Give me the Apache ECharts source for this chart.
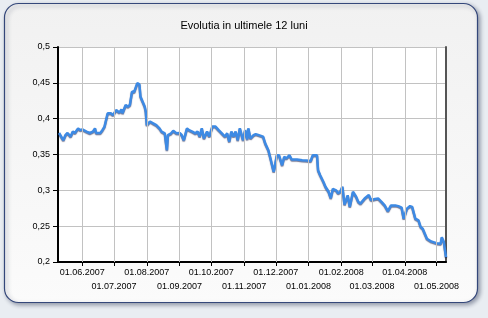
<!DOCTYPE html>
<html><head><meta charset="utf-8">
<script src="https://cdn.jsdelivr.net/npm/echarts@6/dist/echarts.min.js"></script>
<style>html,body{margin:0;padding:0;background:#e9edf2;}#c{width:488px;height:318px;}</style>
</head><body><div id="c"></div>
<script>
const titleText = 'Evolutia in ultimele 12 luni';
const dates = [
'2007-05-10','2007-05-14','2007-05-16','2007-05-18','2007-05-21','2007-05-23','2007-05-25','2007-05-28','2007-05-30',
'2007-06-01','2007-06-05','2007-06-08','2007-06-11','2007-06-13','2007-06-14','2007-06-18','2007-06-20','2007-06-22',
'2007-06-25','2007-06-26','2007-06-28','2007-06-30','2007-07-03','2007-07-06','2007-07-08','2007-07-09','2007-07-12',
'2007-07-14','2007-07-16','2007-07-18','2007-07-20','2007-07-23','2007-07-25','2007-07-26','2007-07-28','2007-07-30',
'2007-07-31','2007-08-01','2007-08-04','2007-08-07','2007-08-10','2007-08-13','2007-08-15','2007-08-18','2007-08-20',
'2007-08-21','2007-08-24','2007-08-26','2007-08-29','2007-09-01','2007-09-03','2007-09-05','2007-09-08','2007-09-10',
'2007-09-13','2007-09-16','2007-09-18','2007-09-20','2007-09-22','2007-09-24','2007-09-27','2007-09-29','2007-10-02',
'2007-10-05','2007-10-08','2007-10-11','2007-10-14','2007-10-16','2007-10-18','2007-10-20','2007-10-22','2007-10-24',
'2007-10-26','2007-10-28','2007-10-31','2007-11-02','2007-11-04','2007-11-05','2007-11-07','2007-11-10','2007-11-12',
'2007-11-15','2007-11-19','2007-11-21','2007-11-24','2007-11-26','2007-11-29','2007-11-30','2007-12-02','2007-12-04',
'2007-12-07','2007-12-09','2007-12-11','2007-12-14','2007-12-16','2007-12-21','2007-12-26','2007-12-30','2008-01-03',
'2008-01-05','2008-01-09','2008-01-10','2008-01-12','2008-01-15','2008-01-17','2008-01-20','2008-01-22','2008-01-24',
'2008-01-27','2008-01-29','2008-01-31','2008-02-02','2008-02-04','2008-02-07','2008-02-09','2008-02-12','2008-02-15',
'2008-02-17','2008-02-19','2008-02-23','2008-02-27','2008-02-29','2008-03-04','2008-03-07','2008-03-10','2008-03-13',
'2008-03-16','2008-03-19','2008-03-23','2008-03-26','2008-03-29','2008-03-31','2008-04-03','2008-04-06','2008-04-08',
'2008-04-11','2008-04-14','2008-04-16','2008-04-18','2008-04-22','2008-04-26','2008-05-01','2008-05-05','2008-05-06',
'2008-05-08','2008-05-10'
];
const values = [
0.380,0.370,0.377,0.380,0.375,0.382,0.380,0.3865,0.384,
0.385,0.382,0.380,0.382,0.3865,0.380,0.380,0.384,0.389,
0.4076,0.405,0.4076,0.405,0.412,0.4085,0.413,0.4076,0.419,
0.4168,0.419,0.4378,0.437,0.4496,0.448,0.431,0.424,0.417,
0.410,0.391,0.396,0.3935,0.391,0.3865,0.382,0.3796,0.356,
0.3772,0.3796,0.383,0.3796,0.380,0.3772,0.370,0.3865,0.384,
0.382,0.3796,0.382,0.375,0.3865,0.3725,0.382,0.375,0.389,
0.389,0.384,0.3796,0.375,0.3796,0.368,0.382,0.375,0.382,
0.370,0.3865,0.370,0.384,0.371,0.3865,0.3725,0.377,0.3785,
0.377,0.375,0.3655,0.356,0.3445,0.326,0.333,0.349,0.349,
0.335,0.3468,0.3445,0.349,0.343,0.343,0.342,0.3415,0.341,
0.349,0.349,0.328,0.321,0.312,0.305,0.298,0.289,0.302,
0.300,0.296,0.298,0.305,0.280,0.293,0.277,0.298,0.291,
0.284,0.2815,0.2885,0.2935,0.2865,0.288,0.2885,0.284,0.279,
0.271,0.279,0.279,0.278,0.276,0.2605,0.2745,0.278,0.277,
0.2605,0.258,0.249,0.2465,0.2325,0.2287,0.2263,0.2255,0.2347,
0.228,0.2067
];
const tickLabels = ['01.06.2007','01.07.2007','01.08.2007','01.09.2007','01.10.2007','01.11.2007',
'01.12.2007','01.01.2008','01.02.2008','01.03.2008','01.04.2008','01.05.2008'];
const axisStart = '2007-05-09';
const axisEnd = '2008-05-10';

function parseLocal(s){ const p=s.split('-'); return new Date(+p[0], +p[1]-1, +p[2]).getTime(); }
function parseLabel(s){ const p=s.split('.'); return new Date(+p[2], +p[1]-1, +p[0]).getTime(); }
const tickValues = tickLabels.map(parseLabel);
const rowA = tickValues.filter((t,i)=>i%2===0);
const rowB = tickValues.filter((t,i)=>i%2===1);
function labelFor(v){
  let best=-1, bd=Infinity;
  tickValues.forEach((t,i)=>{ const d=Math.abs(t-v); if(d<bd){bd=d;best=i;} });
  if(best<0 || bd>3600e3*12) return '';
  return tickLabels[best];
}

const FONT = 'Liberation Sans, Arial, sans-serif';
const GRID = '#c2c2c2';
const xMin = parseLocal(axisStart), xMax = parseLocal(axisEnd);
const labelStyle = {fontSize:9, color:'#000', fontFamily:FONT, formatter:labelFor, showMinLabel:true, showMaxLabel:true};
const chart = echarts.init(document.getElementById('c'), null, {renderer:'canvas'});
chart.setOption({
  animation:false,
  backgroundColor:'#e9edf2',
  graphic:[{
    type:'rect', z:-10, silent:true,
    shape:{x:4.5,y:3.5,width:473,height:299,r:14},
    style:{
      fill:new echarts.graphic.LinearGradient(0,0,0,1,[{offset:0,color:'#f1f1f1'},{offset:1,color:'#fbfbfb'}]),
      stroke:'#34477a', lineWidth:1.2,
      shadowColor:'rgba(40,50,80,0.45)', shadowBlur:4, shadowOffsetX:2, shadowOffsetY:2
    }
  }],
  title:{text:titleText, left:'center', top:15,
    textStyle:{fontSize:11, fontWeight:'normal', color:'#000', fontFamily:FONT}},
  grid:{left:58, right:42, top:47, bottom:56, show:true, backgroundColor:'#ffffff', borderWidth:0},
  xAxis:[{
    type:'value', min:xMin, max:xMax, position:'bottom',
    axisLine:{show:true, lineStyle:{color:'#000', width:2}},
    axisTick:{show:true, length:4, lineStyle:{color:'#000', width:1}, customValues:tickValues},
    axisLabel:Object.assign({customValues:rowA, margin:6}, labelStyle),
    splitLine:{show:false}
  },{
    type:'value', min:xMin, max:xMax, position:'bottom', offset:0,
    axisLine:{show:false}, axisTick:{show:false},
    axisLabel:Object.assign({customValues:rowB, margin:20}, labelStyle),
    splitLine:{show:false}
  }],
  yAxis:[{
    type:'value', min:0.2, max:0.5, interval:0.05,
    axisLine:{show:true, lineStyle:{color:'#000', width:2}},
    axisTick:{show:true, length:5, lineStyle:{color:'#000', width:1}},
    axisLabel:{margin:8, fontSize:9, color:'#000', fontFamily:FONT,
      formatter:function(v){ return String(+v.toFixed(2)).replace('.', ','); }},
    splitLine:{show:true, lineStyle:{color:GRID, width:1}}
  },{
    type:'value', position:'right', min:0.2, max:0.5, interval:0.05,
    axisLine:{show:true, lineStyle:{color:'#555', width:2}},
    axisTick:{show:false}, axisLabel:{show:false}, splitLine:{show:false}
  }],
  series:[{
    type:'line', z:1, data:[], silent:true, xAxisIndex:0,
    markLine:{silent:true, symbol:'none', label:{show:false}, animation:false,
      lineStyle:{color:GRID, width:1, type:'solid'},
      data:tickValues.map(t=>({xAxis:t}))}
  },{
    type:'line', z:3, xAxisIndex:0, yAxisIndex:0, showSymbol:false, symbol:'none',
    data:dates.map((d,i)=>[parseLocal(d), values[i]]),
    lineStyle:{color:'#3d8ae4', width:2.5, shadowColor:'rgba(0,10,60,0.55)', shadowBlur:1, shadowOffsetY:1}
  }]
});
</script></body></html>
